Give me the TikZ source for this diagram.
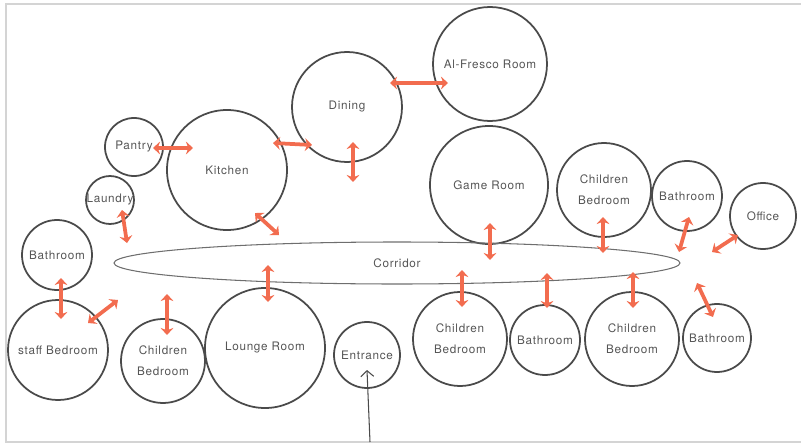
\documentclass[tikz,border=0pt]{standalone}
\usepackage{fontspec}
\newfontfamily\handfont[LetterSpace=6]{TeX Gyre Heros}
\usetikzlibrary{arrows.meta,shapes.geometric}
\definecolor{inkgray}{HTML}{4A4A4A}
\definecolor{textgray}{HTML}{555555}
\definecolor{linkorange}{HTML}{F26C4F}
\definecolor{framegray}{HTML}{D4D4D4}
\begin{document}
\begin{tikzpicture}[x=0.03cm, y=-0.03cm,
  every node/.style={align=center, font=\handfont\fontsize{10}{18}\selectfont, text=textgray},
  room/.style={circle, draw=inkgray, line width=1.5pt, inner sep=0pt, minimum size=#1*0.6mm},
  link/.style={{Stealth[length=6pt,width=11pt]}-{Stealth[length=6pt,width=11pt]}, draw=linkorange, line width=3.2pt}]
  % sheet with its frame (right edge runs off the page)
  \useasboundingbox (0,0) rectangle (801,444);
  \draw[framegray, line width=1.6pt] (815,4) -- (6,4) -- (6,442) -- (815,442);

  % service rooms and living wing
  \node[room=29] (pantry) at (134,147) {Pantry};
  \node[room=24] (laundry) at (110,200) {Laundry};
  \node[room=60] (kitchen) at (227,170) {Kitchen};
  \node[room=55] (dining) at (347,107) {Dining};
  \node[room=57] (alfresco) at (490,64) {Al-Fresco Room};
  \node[room=59] (game) at (489,185) {Game Room};
  \node[room=47] (chbedA) at (604,190) {Children\\Bedroom};
  \node[room=35] (bathA) at (687,196) {Bathroom};
  \node[room=33] (office) at (763,216) {Office};

  % corridor in the middle
  \node[ellipse, draw=inkgray!80, line width=0.9pt, minimum width=566*0.3mm, minimum height=42*0.3mm] (corridor) at (397,263) {Corridor};

  % rooms below the corridor
  \node[room=35] (bathL) at (57,255) {Bathroom};
  \node[room=50] (staff) at (58,350) {staff Bedroom};
  \node[room=42] (chbedL) at (163,361) {Children\\Bedroom};
  \node[room=60] (lounge) at (265,348) {Lounge Room};
  \node[room=33] (entrance) at (367,355) {Entrance};
  \node[room=47] (chbedM) at (460,339) {Children\\Bedroom};
  \node[room=35] (bathM) at (545,340) {Bathroom};
  \node[room=47] (chbedR) at (632,339) {Children\\Bedroom};
  \node[room=34] (bathR) at (717,338) {Bathroom};

  % links between rooms
  \draw[link] ([shift={(19,1)}]pantry.center) -- ([shift={(-34,-22)}]kitchen.center);
  \draw[link] ([shift={(46,-27)}]kitchen.center) -- ([shift={(-35,38)}]dining.center);
  \draw[link] ([shift={(43,-24)}]dining.center) -- ([shift={(-42,19)}]alfresco.center);
  \draw[link] ([shift={(6,35)}]dining.center) -- ([shift={(-44,-81)}]corridor.center);
  \draw[link] ([shift={(28,43)}]kitchen.center) -- ([shift={(-118,-28)}]corridor.center);
  \draw[link] ([shift={(12,10)}]laundry.center) -- ([shift={(-270,-20)}]corridor.center);
  \draw[link] ([shift={(1,38)}]game.center) -- ([shift={(93,-3)}]corridor.center);
  \draw[link] ([shift={(-1,27)}]chbedA.center) -- ([shift={(206,-10)}]corridor.center);
  \draw[link] ([shift={(2,21)}]bathA.center) -- ([shift={(282,-11)}]corridor.center);
  \draw[link] ([shift={(-25,19)}]office.center) -- ([shift={(315,-11)}]corridor.center);
  \draw[link] ([shift={(4,23)}]bathL.center) -- ([shift={(3,-31)}]staff.center);
  \draw[link] ([shift={(30,-27)}]staff.center) -- ([shift={(-279,37)}]corridor.center);
  \draw[link] ([shift={(4,-26)}]chbedL.center) -- ([shift={(-230,31)}]corridor.center);
  \draw[link] ([shift={(3,-46)}]lounge.center) -- ([shift={(-129,2)}]corridor.center);
  \draw[link] ([shift={(2,-32)}]chbedM.center) -- ([shift={(65,7)}]corridor.center);
  \draw[link] ([shift={(2,-32)}]bathM.center) -- ([shift={(150,10)}]corridor.center);
  \draw[link] ([shift={(1,-31)}]chbedR.center) -- ([shift={(236,9)}]corridor.center);
  \draw[link] ([shift={(-4,-21)}]bathR.center) -- ([shift={(300,20)}]corridor.center);

  % way in from outside
  \coordinate (door) at (370,442);
  \draw[inkgray, line width=0.9pt, -{Straight Barb[length=5pt,width=11pt]}] (door) -- ([shift={(0,15)}]entrance.center);
\end{tikzpicture}
\end{document}
